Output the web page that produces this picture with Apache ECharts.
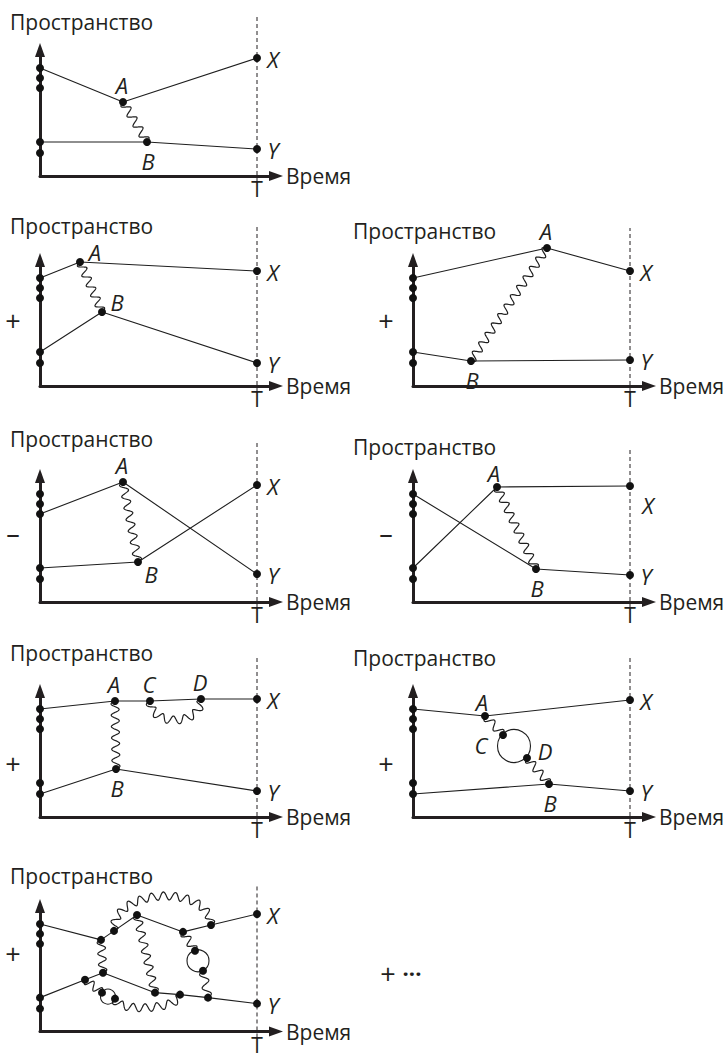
<!DOCTYPE html>
<html>
<head>
<meta charset="utf-8">
<title>Пространство – Время</title>
<script src="https://cdn.jsdelivr.net/npm/echarts@6/dist/echarts.min.js"></script>
<style>
html, body { margin: 0; padding: 0; background: #fff; }
#chart { width: 728px; height: 1055px; }
</style>
</head>
<body>
<div id="chart"></div>
<script>
// time runs from 0 to T along each panel, space goes up from the time axis
var T = 217;
var timeMax = 236;
var spaceMax = 126;

// dots sitting on the space axis, top to bottom
var axisDots = [["o1", 108], ["o2", 98], ["o3", 88], ["o4", 34], ["o5", 23]];

// panel 1
var points1 = [["A", 83, 74], ["B", 107, 34], ["X", 217, 118], ["Y", 217, 27]];
var lines1 = [["o1", "A", "X"], ["o4", "B", "Y"]];
var waves1 = [["A", "B", 0]];
var loops1 = [];

// panel 2
var points2 = [["A", 40, 124], ["B", 62, 74], ["X", 217, 115], ["Y", 217, 23]];
var lines2 = [["o1", "A", "X"], ["o4", "B", "Y"]];
var waves2 = [["A", "B", 0]];
var loops2 = [];

// panel 3
var points3 = [["A", 134, 138], ["B", 58, 25], ["X", 217, 115], ["Y", 217, 26]];
var lines3 = [["o1", "A", "X"], ["o4", "B", "Y"]];
var waves3 = [["A", "B", 0]];
var loops3 = [];

// panel 4
var points4 = [["A", 83, 120], ["B", 98, 40], ["X", 217, 117], ["Y", 217, 28]];
var lines4 = [["o3", "A", "Y"], ["o4", "B", "X"]];
var waves4 = [["A", "B", 0]];
var loops4 = [];

// panel 5
var points5 = [["A", 84, 115], ["B", 123, 33], ["X", 217, 116], ["Y", 217, 27]];
var lines5 = [["o1", "B", "Y"], ["o4", "A", "X"]];
var waves5 = [["A", "B", 0]];
var loops5 = [];

// panel 6
var points6 = [["A", 75, 116], ["C", 110, 116], ["D", 161, 118], ["X", 217, 118], ["B", 76, 48], ["Y", 217, 26]];
var lines6 = [["o1", "A", "C", "D", "X"], ["o5", "B", "Y"]];
var waves6 = [["A", "B", 0], ["C", "D", -20]];
var loops6 = [];

// panel 7
var points7 = [["A", 72, 101], ["C", 90, 82], ["D", 114, 59], ["B", 136, 33], ["X", 217, 117], ["Y", 217, 26]];
var lines7 = [["o1", "A", "X"], ["o5", "B", "Y"]];
var waves7 = [["A", "C", 0], ["D", "B", 0]];
var loops7 = [[101, 71, 16.5]];

// panel 8
var points8 = [
  ["v1", 61, 92], ["v2", 74, 101], ["v3", 97, 117], ["v4", 143, 100], ["v5", 171, 107], ["X", 217, 118],
  ["v7", 45, 52], ["v6", 63, 59], ["v10", 115, 39], ["v11", 140, 37], ["v12", 168, 34], ["Y", 217, 28],
  ["v8", 62, 39], ["v9", 75, 33], ["v13", 155, 81], ["v14", 163, 61]
];
var lines8 = [["o1", "v1", "v2", "v3", "v4", "v5", "X"], ["o4", "v7", "v6", "v10", "v11", "v12", "Y"]];
var waves8 = [["v1", "v6", 0], ["v2", "v5", 32], ["v3", "v10", 0], ["v4", "v13", 0], ["v14", "v12", 0], ["v7", "v8", 0], ["v9", "v11", -11]];
var loops8 = [[158, 71, 11], [68, 35, 7.5]];

var allPoints = [points1, points2, points3, points4, points5, points6, points7, points8];
var allLines = [lines1, lines2, lines3, lines4, lines5, lines6, lines7, lines8];
var allWaves = [waves1, waves2, waves3, waves4, waves5, waves6, waves7, waves8];
var allLoops = [loops1, loops2, loops3, loops4, loops5, loops6, loops7, loops8];

// page layout of the panels (pixels)
var layout = [
  { x: 40, y: 176, titleX: 10, titleY: 22, dashTop: 15, sign: "", signY: 0 },
  { x: 40, y: 386, titleX: 10, titleY: 226, dashTop: 227, sign: "+", signY: 320 },
  { x: 413, y: 386, titleX: 353, titleY: 231, dashTop: 228, sign: "+", signY: 320 },
  { x: 40, y: 602, titleX: 10, titleY: 439, dashTop: 443, sign: "–", signY: 532 },
  { x: 413, y: 602, titleX: 353, titleY: 447, dashTop: 447, sign: "–", signY: 532 },
  { x: 40, y: 817, titleX: 10, titleY: 653, dashTop: 657, sign: "+", signY: 763 },
  { x: 413, y: 817, titleX: 353, titleY: 658, dashTop: 657, sign: "+", signY: 763 },
  { x: 40, y: 1032, titleX: 10, titleY: 876, dashTop: 885, sign: "+", signY: 953 }
];

var labelPlace = [
  { A: "top", B: "bottom", X: "right", Y: "right" },
  { A: "topRight", B: "topRight", X: "right", Y: "right" },
  { A: "top", B: "bottom", X: "right", Y: "right" },
  { A: "top", B: "bottomRight", X: "right", Y: "right" },
  { A: "topNear", B: "bottom", X: "below", Y: "right" },
  { A: "top", C: "top", D: "top", B: "bottom", X: "right", Y: "right" },
  { A: "topNear", C: "left", D: "rightUp", B: "bottom", X: "right", Y: "right" },
  { X: "right", Y: "right" }
];
var labelOffsets = {
  top: [-1, -17], topNear: [-3, -14], bottom: [1, 19], bottomRight: [13, 12],
  right: [16, 1], topRight: [15, -10], below: [18, 19], left: [-22, 10], rightUp: [18, -7]
};

var ink = "#231f20";
var thin = "#1e1e1e";
var font = '"Open Sans", "Noto Sans", sans-serif';
var waveLength = 11.5;
var waveAmp = 4;

function renderWave(params, api) {
  var a = api.coord([api.value(0), api.value(1)]);
  var b = api.coord([api.value(2), api.value(3)]);
  var bendV = api.value(4);
  var bend = api.size([0, Math.abs(bendV)])[1] * (bendV < 0 ? -1 : 1);
  var dx = b[0] - a[0], dy = b[1] - a[1];
  var L = Math.sqrt(dx * dx + dy * dy);
  var nx = dy / L, ny = -dx / L;
  if (ny > 0) { nx = -nx; ny = -ny; }
  var k = bend * 4 / 3;
  var c1 = [a[0] + nx * k, a[1] + ny * k];
  var c2 = [b[0] + nx * k, b[1] + ny * k];
  var n = 240, base = [], len = [0];
  for (var j = 0; j <= n; j++) {
    var u = j / n, m = 1 - u;
    var px = m * m * m * a[0] + 3 * m * m * u * c1[0] + 3 * m * u * u * c2[0] + u * u * u * b[0];
    var py = m * m * m * a[1] + 3 * m * m * u * c1[1] + 3 * m * u * u * c2[1] + u * u * u * b[1];
    base.push([px, py]);
    if (j > 0) {
      var ex = px - base[j - 1][0], ey = py - base[j - 1][1];
      len.push(len[j - 1] + Math.sqrt(ex * ex + ey * ey));
    }
  }
  var total = len[n];
  var count = Math.max(1, Math.round(total / waveLength));
  var pts = [];
  for (var i = 0; i <= n; i++) {
    var p0 = base[Math.max(0, i - 1)], p1 = base[Math.min(n, i + 1)];
    var tx = p1[0] - p0[0], ty = p1[1] - p0[1];
    var tl = Math.sqrt(tx * tx + ty * ty) || 1;
    var off = waveAmp * Math.sin(2 * Math.PI * count * len[i] / total);
    pts.push([base[i][0] - ty / tl * off, base[i][1] + tx / tl * off]);
  }
  return {
    type: "polyline",
    shape: { points: pts },
    style: { stroke: thin, lineWidth: 1.2, fill: null }
  };
}

function renderLoop(params, api) {
  var c = api.coord([api.value(0), api.value(1)]);
  var r = api.size([api.value(2), 0])[0];
  return {
    type: "circle",
    shape: { cx: c[0], cy: c[1], r: r },
    style: { stroke: thin, lineWidth: 1.1, fill: null }
  };
}

var option = {
  animation: false,
  backgroundColor: "#fff",
  textStyle: { fontFamily: font },
  grid: [],
  xAxis: [],
  yAxis: [],
  series: [],
  graphic: []
};

layout.forEach(function (L, i) {
  var pts = allPoints[i];
  var lookup = {};
  axisDots.forEach(function (d) { lookup[d[0]] = [0, d[1]]; });
  pts.forEach(function (p) { lookup[p[0]] = [p[1], p[2]]; });

  option.grid.push({ left: L.x, top: L.y - spaceMax, width: timeMax, height: spaceMax });

  option.xAxis.push({
    gridIndex: i, type: "value", min: 0, max: timeMax,
    axisLine: { show: true, symbol: ["none", "triangle"], symbolSize: [10, 14], lineStyle: { color: ink, width: 3 } },
    axisTick: { show: false },
    splitLine: { show: false },
    axisLabel: {
      show: true, customValues: [T], formatter: function () { return "T"; },
      color: ink, fontSize: 21, margin: 5, lineHeight: 16, fontFamily: font
    },
    name: "Время", nameLocation: "end", nameGap: 10,
    nameTextStyle: { fontSize: 21, color: ink, fontFamily: font, align: "left", verticalAlign: "middle" }
  });
  option.yAxis.push({
    gridIndex: i, type: "value", min: 0, max: spaceMax,
    axisLine: { show: true, symbol: ["none", "triangle"], symbolSize: [10, 14], lineStyle: { color: ink, width: 3 } },
    axisTick: { show: false },
    splitLine: { show: false },
    axisLabel: { show: false }
  });

  // dashed line at t = T
  option.series.push({
    type: "line", xAxisIndex: i, yAxisIndex: i, silent: true, clip: false,
    symbol: "none", z: 1,
    data: [[T, -6], [T, L.y - L.dashTop]],
    lineStyle: { color: ink, width: 1, type: [4, 3] }
  });

  allLines[i].forEach(function (names) {
    option.series.push({
      type: "line", xAxisIndex: i, yAxisIndex: i, silent: true, clip: false,
      symbol: "none", z: 2,
      data: names.map(function (nm) { return lookup[nm]; }),
      lineStyle: { color: thin, width: 1.1 }
    });
  });

  option.series.push({
    type: "custom", xAxisIndex: i, yAxisIndex: i, silent: true, z: 2,
    renderItem: renderWave,
    data: allWaves[i].map(function (w) {
      var a = lookup[w[0]], b = lookup[w[1]];
      return [a[0], a[1], b[0], b[1], w[2]];
    })
  });

  if (allLoops[i].length) {
    option.series.push({
      type: "custom", xAxisIndex: i, yAxisIndex: i, silent: true, z: 2,
      renderItem: renderLoop,
      data: allLoops[i]
    });
  }

  var place = labelPlace[i];
  var dots = axisDots.map(function (d) { return { name: d[0], value: [0, d[1]] }; });
  pts.forEach(function (p) {
    var item = { name: p[0], value: [p[1], p[2]] };
    if (place[p[0]]) {
      item.label = { show: true, offset: labelOffsets[place[p[0]]] };
    }
    dots.push(item);
  });
  option.series.push({
    type: "scatter", xAxisIndex: i, yAxisIndex: i, silent: true, clip: false, z: 3,
    symbolSize: 8,
    itemStyle: { color: "#111", opacity: 1 },
    label: {
      show: false, position: "inside", formatter: "{b}",
      color: ink, fontSize: 22, fontStyle: "italic", fontFamily: font
    },
    data: dots
  });

  option.graphic.push({
    type: "text", x: L.titleX, y: L.titleY,
    style: { text: "Пространство", fontSize: 21, fontFamily: font, fill: ink, align: "left", verticalAlign: "middle" }
  });
  if (L.sign) {
    option.graphic.push({
      type: "text", x: L.x - 27, y: L.signY,
      style: { text: L.sign, fontSize: 27, fontFamily: font, fill: ink, align: "center", verticalAlign: "middle" }
    });
  }
});

option.graphic.push({
  type: "text", x: 388, y: 973,
  style: { text: "+", fontSize: 27, fontFamily: font, fill: ink, align: "center", verticalAlign: "middle" }
});
option.graphic.push({
  type: "text", x: 412, y: 973,
  style: { text: "···", fontSize: 22, fontWeight: "bold", fontFamily: font, fill: ink, align: "center", verticalAlign: "middle" }
});

var chart = echarts.init(document.getElementById("chart"), null, { renderer: "svg" });
chart.setOption(option);
</script>
</body>
</html>
